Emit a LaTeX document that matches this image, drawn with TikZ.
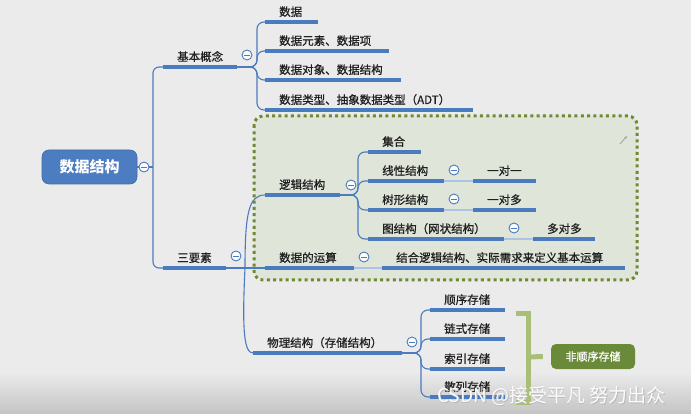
\documentclass[tikz,border=0pt]{standalone}
\usepackage{fontspec}
\setmainfont{Noto Sans CJK SC}
\newfontfamily\lblfont{Noto Sans CJK SC}[FakeBold=0.8]
\usetikzlibrary{arrows.meta}
\definecolor{bgc}{HTML}{EBEBEB}
\definecolor{bgd}{HTML}{C4C4C4}
\definecolor{ublue}{HTML}{4A7BBE}
\definecolor{lblue}{HTML}{A9C4E4}
\definecolor{rootblue}{HTML}{4D7DC1}
\definecolor{gfill}{HTML}{DFE5D8}
\definecolor{gdot}{HTML}{6F8A33}
\definecolor{brk}{HTML}{A9BF78}
\definecolor{fsg}{HTML}{6A8A3A}
\definecolor{txt}{HTML}{202020}
\newcommand\tpc[5]{%
  \node[bar, minimum width={#3-#2}] (#1) at (#2,#4) {};
  \node[lbl] (#1-t) at ([xshift=14pt,yshift=6pt]#1.west) {#5};
}
\begin{document}
\begin{tikzpicture}[x=1pt,y=-1pt,
  bar/.style={fill=ublue, minimum height=3.2pt, inner sep=0pt, outer sep=0pt, anchor=west, draw=none},
  lbl/.style={font=\lblfont\fontsize{11.5}{12}\selectfont, inner sep=0pt, anchor=base west, text=txt},
  tog/.style={circle, draw=ublue, fill=white!85!bgc, line width=0.9pt, minimum size=10pt, inner sep=0pt,
    path picture={\draw[ublue, line width=0.9pt] ([xshift=-2.6pt]path picture bounding box.center) -- ([xshift=2.6pt]path picture bounding box.center);}},
  conn/.style={draw=ublue, line width=1.1pt},
  lconn/.style={draw=lblue, line width=1.6pt},
  rootbox/.style={rectangle, rounded corners=7pt, fill=rootblue, draw=rootblue!85!black, line width=0.6pt,
    minimum width=95pt, minimum height=34pt, text=white, font=\fontsize{15}{15}\selectfont\bfseries},
  gbox/.style={fill=gfill, draw=gdot, line width=3pt, dash pattern=on 3pt off 3.3pt, rounded corners=9pt},
  bracket/.style={draw=brk, line width=5pt},
  fsbox/.style={rectangle, rounded corners=5pt, fill=fsg, minimum width=84pt, minimum height=25pt, text=white,
    font=\lblfont\fontsize{11}{11}\selectfont},
  wm/.style={font=\fontsize{19}{19}\selectfont, inner sep=0pt, anchor=west}
]
% background
\fill[bgc] (0,0) rectangle (691,414);
\shade[top color=bgc, bottom color=bgd] (0,372) rectangle (691,414);
\useasboundingbox (0,0) rectangle (691,414);

% green highlight box
\draw[gbox] (254,116) rectangle (637,280);
\draw[gray!75, line width=0.8pt, -{Stealth[length=3pt]}] (620,144) -- (627,136);

% root
\node[rootbox] (root) at (89.5,167) {数据结构};
\node[tog] (c0) at (144,167) {};
\coordinate (trunk) at (153,167);

% level 1
\tpc{jb}{163}{237}{67}{基本概念}
\tpc{sy}{163}{226}{268}{三要素}

% 基本概念 children
\tpc{a1}{265}{318}{22}{数据}
\tpc{a2}{265}{389}{51}{数据元素、数据项}
\tpc{a3}{265}{401}{80}{数据对象、数据结构}
\tpc{a4}{265}{473}{110}{数据类型、抽象数据类型（ADT）}
\coordinate (j1) at (257,67);

% 三要素 children
\tpc{lj}{265}{340}{195}{逻辑结构}
\tpc{ys}{265}{354}{268}{数据的运算}
\tpc{wl}{253}{402}{353}{物理结构（存储结构）}
\coordinate (j2) at (245,268);

% 逻辑结构 children
\tpc{b1}{368}{421}{152}{集合}
\tpc{b2}{368}{444}{181}{线性结构}
\tpc{b3}{368}{444}{210}{树形结构}
\tpc{b4}{368}{504}{239}{图结构（网状结构）}
\coordinate (j3) at (358,195);
\tpc{b2a}{473}{536}{181}{一对一}
\tpc{b3a}{473}{536}{210}{一对多}
\tpc{b4a}{533}{595}{239}{多对多}

% 数据的运算 child
\tpc{ys1}{382}{625}{268}{结合逻辑结构、实际需求来定义基本运算}

% 物理结构 children
\tpc{d1}{430}{505}{310}{顺序存储}
\tpc{d2}{430}{505}{339}{链式存储}
\tpc{d3}{430}{505}{369}{索引存储}
\tpc{d4}{430}{505}{397}{散列存储}
\coordinate (j4) at (421,353);

% connectors
\draw[conn] (root.east) -- (c0.west);
\draw[conn] (c0.east) -- (trunk);
\draw[conn, rounded corners=6pt] (jb.west) -| (trunk) |- (sy.west);
\foreach \c in {a1,a2,a3,a4}
  \draw[conn, rounded corners=7pt] (jb.east) -- (j1) |- (\c.west);
\draw[conn] (sy.east) -- (j2) .. controls (245,212) and (249,195) .. (lj.west);
\draw[conn] (sy.east) -- (ys.west);
\draw[conn] (j2) .. controls (242,330) and (244,353) .. (wl.west);
\foreach \c in {b1,b2,b3,b4}
  \draw[conn, rounded corners=7pt] (lj.east) -- (j3) |- (\c.west);
\foreach \c in {d1,d2,d3,d4}
  \draw[conn, rounded corners=7pt] (wl.east) -- (j4) |- (\c.west);
\draw[lconn] (b2.east) -- (b2a.west);
\draw[lconn] (b3.east) -- (b3a.west);
\draw[lconn] (b4.east) -- (b4a.west);
\draw[lconn] (ys.east) -- (ys1.west);

% collapse toggles
\node[tog] (c1) at (247,55) {};
\node[tog] (c2) at (236,256) {};
\node[tog] (c3) at (351,185) {};
\node[tog] (c4) at (364,257) {};
\node[tog] (c5) at (412,342) {};
\node[tog] (c6) at (454,170) {};
\node[tog] (c7) at (454,199) {};
\node[tog] (c8) at (514,228) {};

% bracket and summary
\node[fsbox] (fs) at (593,356.5) {非顺序存储};
\coordinate (bt) at (516,313);
\coordinate (bb) at (516,402);
\coordinate (bm) at (528,357);
\draw[bracket] (bt) -| (bm) |- (bb);
\draw[bracket] (bm) -- ([xshift=-8pt]fs.west);

% watermark
\node[wm, text=gray!55] at (437.8,396.8) {CSDN @接受平凡 努力出众};
\node[wm, text=white, opacity=0.95] (wm) at (437,396) {CSDN @接受平凡 努力出众};
\end{tikzpicture}
\end{document}
